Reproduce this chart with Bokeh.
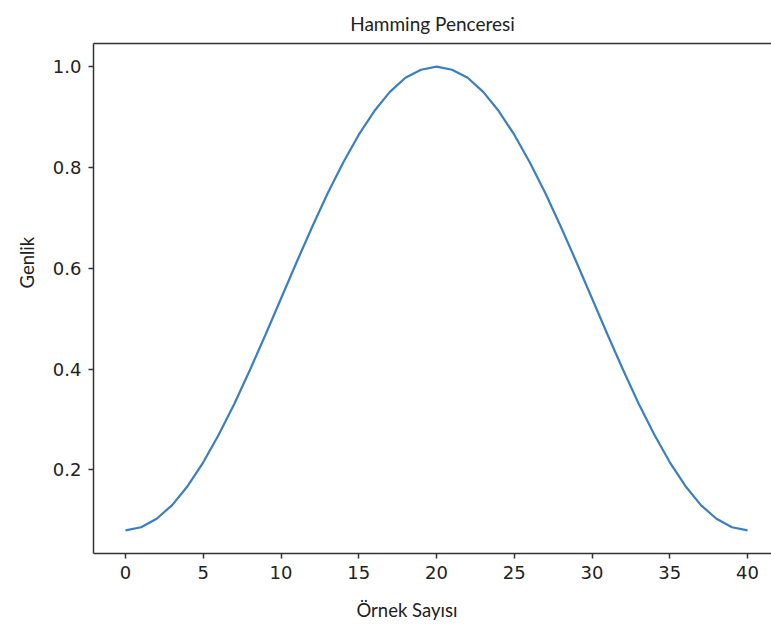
from bokeh.plotting import figure
from bokeh.models import Range1d, LinearAxis, FixedTicker, NumeralTickFormatter, Title
from bokeh.embed import file_html
from bokeh.resources import INLINE

# Sample index and window amplitude
samples = list(range(41))
amplitude = [0.080, 0.086, 0.103, 0.130, 0.168, 0.215, 0.270, 0.331, 0.398, 0.468,
             0.540, 0.612, 0.682, 0.749, 0.810, 0.865, 0.912, 0.950, 0.978, 0.994,
             1.000, 0.994, 0.978, 0.950, 0.912, 0.865, 0.810, 0.749, 0.682, 0.612,
             0.540, 0.468, 0.398, 0.331, 0.270, 0.215, 0.168, 0.130, 0.103, 0.086, 0.080]
x_ticks = [0, 5, 10, 15, 20, 25, 30, 35, 40]
y_ticks = [0.2, 0.4, 0.6, 0.8, 1.0]
title_text = "Hamming Penceresi"
x_label = "Örnek Sayısı"
y_label = "Genlik"

x0, x1 = -2.06, 41.54
y0, y1 = 0.034, 1.046

p = figure(width=771, height=637, output_backend="svg", toolbar_location=None,
           x_range=Range1d(x0, x1), y_range=Range1d(y0, y1),
           min_border_left=93, min_border_right=0, min_border_top=43, min_border_bottom=84)
p.background_fill_color = "white"
p.border_fill_color = "white"
p.outline_line_color = None
p.grid.visible = False

p.line(samples, amplitude, line_color="#3a7fc1", line_width=2.2)

axis_color = "#333333"
for ax in (p.xaxis[0], p.yaxis[0]):
    ax.axis_line_color = axis_color
    ax.axis_line_width = 1.5
    ax.major_tick_line_color = axis_color
    ax.major_tick_line_width = 1.5
    ax.major_tick_out = 5
    ax.major_tick_in = 0
    ax.minor_tick_line_color = None
    ax.major_label_text_font = "DejaVu Sans"
    ax.major_label_text_font_size = "18px"
    ax.major_label_text_color = "#222222"

p.xaxis[0].ticker = FixedTicker(ticks=x_ticks)
p.yaxis[0].ticker = FixedTicker(ticks=y_ticks)
p.yaxis[0].formatter = NumeralTickFormatter(format="0.0")
p.xaxis[0].major_label_standoff = 7
p.yaxis[0].major_label_standoff = 7

top = LinearAxis(ticker=FixedTicker(ticks=[]), axis_line_color=axis_color, axis_line_width=1.5,
                 major_label_text_font_size="0px", major_tick_out=0, minor_tick_out=0)
p.add_layout(top, "above")

txt = dict(text_font="Lato", text_color="#222222", text_font_style="normal")

tt = Title(text=title_text, align="center", standoff=18, text_font_size="19px", **txt)
p.add_layout(tt, "above")

xt = Title(text=x_label, align="left", offset=263, standoff=30, text_font_size="18.5px", **txt)
p.add_layout(xt, "below")
yt = Title(text=y_label, align="left", offset=265, standoff=24, text_font_size="18.5px", **txt)
p.add_layout(yt, "left")

open("out.html", "w").write(file_html(p, INLINE))
